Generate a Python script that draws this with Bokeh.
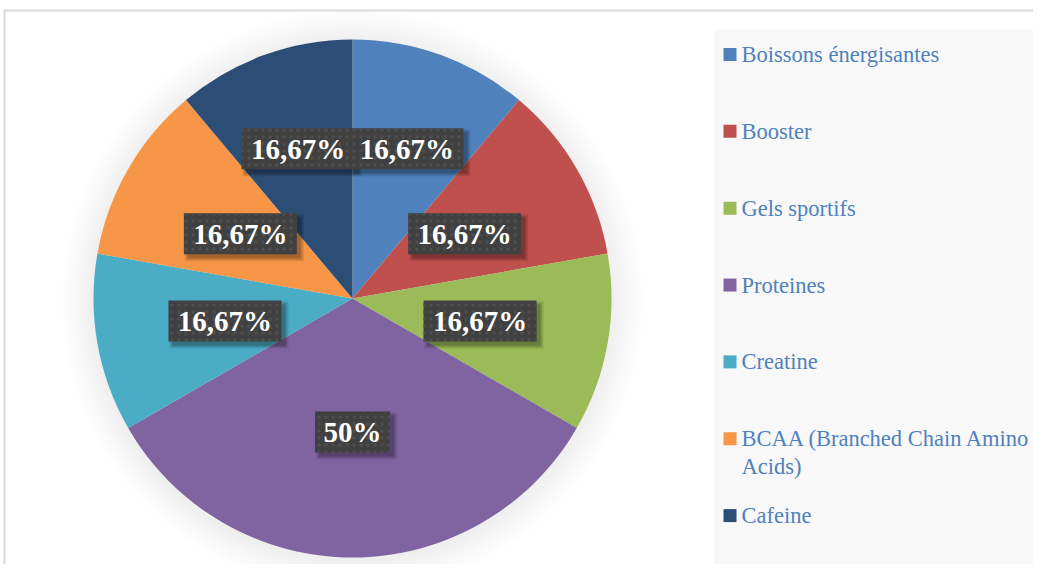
import math
from bokeh.plotting import figure
from bokeh.models import Range1d, ColumnDataSource
from bokeh.core.properties import value
from bokeh.embed import file_html
from bokeh.resources import INLINE

# ---- data ----
categories = ["Boissons énergisantes", "Booster", "Gels sportifs", "Proteines",
              "Creatine", "BCAA (Branched Chain Amino Acids)", "Cafeine"]
values = [16.67, 16.67, 16.67, 50, 16.67, 16.67, 16.67]
colors = ["#4f81bd", "#c0504d", "#9bbb59", "#8064a2", "#4bacc6", "#f79646", "#2c4d75"]

# ---- layout (pixel space) ----
W, H = 1033, 564
def dx(sx): return sx
def dy(sy): return H - sy

CX, CY, R = dx(352), dy(298), 259
label_dist = [0.615, 0.5, 0.5, 0.515, 0.5, 0.5, 0.615]

p = figure(width=W, height=H, x_range=Range1d(0, W), y_range=Range1d(0, H),
           output_backend="svg", toolbar_location=None,
           x_axis_location=None, y_axis_location=None, min_border=0)
p.grid.visible = False
p.outline_line_color = None
p.background_fill_color = "white"
p.border_fill_color = "white"

# chart frame (top and left edges visible)
p.line([dx(3), dx(1060)], [dy(10), dy(10)], line_color="#d9d9d9", line_width=2)
p.line([dx(4), dx(4)], [dy(10), dy(600)], line_color="#d9d9d9", line_width=2)

# soft shadow glow around pie
for k in range(16, 0, -1):
    p.circle(x=[CX], y=[CY - 2], radius=R + 2 * k, fill_color="black",
             fill_alpha=0.005, line_color=None)

# wedges
total = sum(values)
starts, ends, mids = [], [], []
ang = math.pi / 2
for v in values:
    a = v / total * 2 * math.pi
    starts.append(ang - a)
    ends.append(ang)
    mids.append(ang - a / 2)
    ang -= a

src = ColumnDataSource(dict(start=starts, end=ends, color=colors, cat=categories))
p.wedge(x=CX, y=CY, radius=R, start_angle="start", end_angle="end",
        fill_color="color", line_color=None, source=src)

# data labels
def fmt(v):
    s = f"{v:.2f}".rstrip("0").rstrip(".")
    return s.replace(".", ",") + "%"

lx = [CX + R * d * math.cos(m) for d, m in zip(label_dist, mids)]
ly = [CY + R * d * math.sin(m) for d, m in zip(label_dist, mids)]
labels = [fmt(v) for v in values]
bw = [113 if len(t) > 4 else 75 for t in labels]
lsrc = ColumnDataSource(dict(x=lx, y=ly, t=labels, w=bw))
for k, a in [(3, 0.10), (1.5, 0.12), (0, 0.15)]:
    p.rect(x=[x + 4 for x in lx], y=[y - 4 for y in ly],
           width=[w + 2 * k for w in bw], height=[41 + 2 * k] * len(bw),
           fill_color="black", fill_alpha=a, line_color=None)
p.rect(x="x", y="y", width="w", height=41, source=lsrc, fill_color="#404040",
       line_color=None, hatch_pattern="dot", hatch_color="#4e4e4e",
       hatch_scale=7, hatch_weight=1.5)
p.text(x="x", y="y", text="t", source=lsrc, text_color="white",
       text_font=value("Liberation Serif"), text_font_style="bold",
       text_font_size="29px", text_align="center", text_baseline="middle")

# legend
p.quad(left=dx(714), right=dx(1100), top=dy(29), bottom=dy(600),
       fill_color="#f8f8f8", line_color=None)

def wrap(s, n=26):
    words, lines, cur = s.split(), [], ""
    for w in words:
        if cur and len(cur) + 1 + len(w) > n:
            lines.append(cur)
            cur = w
        else:
            cur = (cur + " " + w).strip()
    lines.append(cur)
    return lines

sq_x, sq_y, tx, ty, tt = [], [], [], [], []
for i, c in enumerate(categories):
    yrow = 54 + 76.85 * i
    sq_x.append(dx(729.5))
    sq_y.append(dy(yrow))
    for j, line in enumerate(wrap(c)):
        tx.append(dx(741))
        ty.append(dy(yrow + 28 * j))
        tt.append(line)
p.rect(x=sq_x, y=sq_y, width=13, height=13, fill_color=colors, line_color=None)
p.text(x=tx, y=ty, text=tt, text_color="#4f81bd",
       text_font=value("Liberation Serif"), text_font_size="22.5px",
       text_align="left", text_baseline="middle")

open("out.html", "w").write(file_html(p, INLINE))
